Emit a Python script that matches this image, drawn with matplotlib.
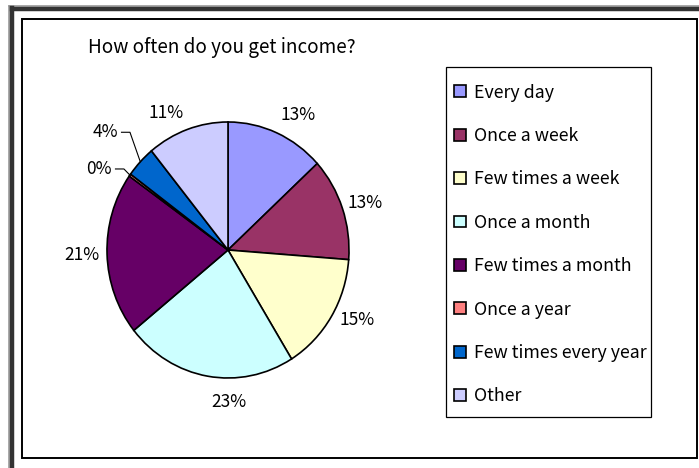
import numpy as np
import matplotlib
matplotlib.use("Agg")
import matplotlib.pyplot as plt

plt.rcParams['font.family'] = ['Noto Sans CJK JP', 'DejaVu Sans']

# survey answers, share of respondents in percent
categories = ["Every day", "Once a week", "Few times a week", "Once a month",
              "Few times a month", "Once a year", "Few times every year", "Other"]
shares = [13.2, 13.0, 15.0, 23.0, 20.6, 0.3, 4.0, 10.9]
colors = ["#9999FF", "#993366", "#FFFFCC", "#CCFFFF",
          "#660066", "#FF8080", "#0066CC", "#CCCCFF"]
title = "How often do you get income?"

W, H = 699, 468
fig = plt.figure(figsize=(W / 100, H / 100), dpi=100)

# background axes in pixel units for the frame
bg = fig.add_axes([0, 0, 1, 1])
bg.set_xlim(0, W)
bg.set_ylim(H, 0)
bg.axis("off")
bg.plot([8.5, W], [5.5, 5.5], color="#9a9a9a", lw=1.2)
bg.plot([8.5, 8.5], [5.5, H], color="#9a9a9a", lw=1.2)
bg.plot([11.5, W], [9, 9], color="#333333", lw=3.2)
bg.plot([11.8, 11.8], [7.5, H], color="#333333", lw=3.2)
bg.add_patch(plt.Rectangle((22, 19), 675, 439, fill=False, ec="black", lw=1.4))
bg.text(88, 48, title, fontsize=13.6, va="center", ha="left")

# legend frame
bg.add_patch(plt.Rectangle((446, 67), 205, 350, fill=False, ec="black", lw=0.9))

# pie drawn as a slightly tall ellipse
cx, cy, rx, ry = 228, 250, 121, 128
pax = fig.add_axes([(cx - rx) / W, (H - cy - ry) / H, 2 * rx / W, 2 * ry / H])
wedges, _ = pax.pie(shares, colors=colors, startangle=90, counterclock=False,
                    wedgeprops=dict(edgecolor="black", linewidth=1.2))
pax.set_aspect("auto")
pax.set_xlim(-1, 1)
pax.set_ylim(-1, 1)

total = sum(shares)
cum = np.cumsum([0] + shares[:-1])
label_r = [1.2, 1.19, 1.2, 1.19, 1.21, 1.15, 1.294, 1.19]
label_shift = [5, 1, -4, -10, 0, 0, 0, -6]
for i, v in enumerate(shares):
    mid = 360 * (cum[i] + v / 2) / total
    txt = f"{v:.0f}%"
    if i in (5, 6):
        # small slices get a leader line
        ang = {5: 303.4, 6: 315.3}[i]
        lx = label_r[i] * np.sin(np.radians(ang))
        ly = label_r[i] * np.cos(np.radians(ang))
        pax.text(lx, ly, txt, ha="right", va="center", fontsize=12.5)
        ex = np.sin(np.radians(mid))
        ey = np.cos(np.radians(mid))
        pax.plot([lx + 0.03, lx + 0.1, ex], [ly, ly, ey], color="black", lw=0.8,
                 clip_on=False)
        continue
    a = np.radians(mid + label_shift[i])
    pax.text(label_r[i] * np.sin(a), label_r[i] * np.cos(a), txt,
             ha="center", va="center", fontsize=12.5)

leg = fig.legend(wedges, categories, loc="upper left",
                 bbox_to_anchor=(454 / W, 1 - 83.5 / H), fontsize=12.8,
                 frameon=False, handlelength=0.65, handleheight=0.65,
                 handletextpad=0.47, labelspacing=1.43, borderpad=0,
                 borderaxespad=0)

fig.savefig("out.png", dpi=100)
